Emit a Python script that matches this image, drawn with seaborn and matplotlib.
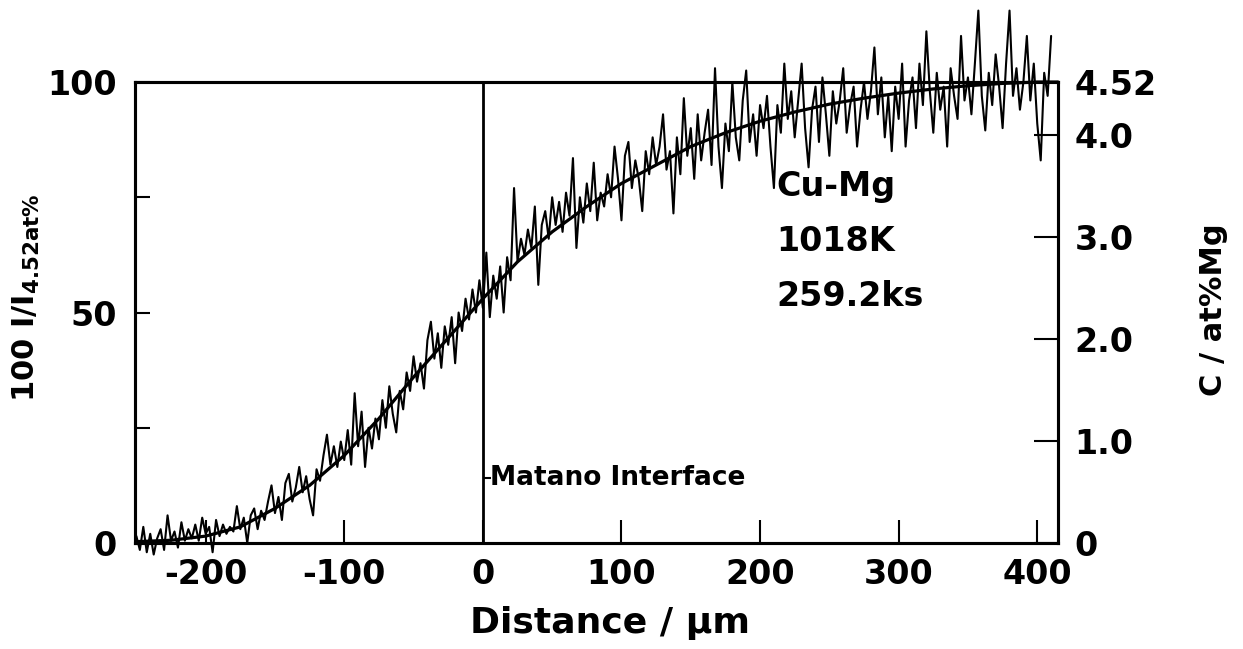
import numpy as np
import matplotlib
matplotlib.use("Agg")
import matplotlib.pyplot as plt
import seaborn as sns

# ---------------- data ----------------
# measured intensity trace, 100 I / I(4.52 at%), sampled every 2.5 um from -250 um
trace_start_um = -250.0
trace_step_um = 2.5
trace_values = [
    1.5, -1.5, 3.5, -2.0, 2.0, -2.5, 1.0, 3.0, -1.5, 6.0,
    0.5, 2.5, -1.0, 4.5, 0.5, 3.0, 1.0, 4.0, 0.5, 5.5,
    2.0, 3.5, -2.0, 5.0, 1.5, 4.0, 2.0, 3.5, 2.5, 8.0,
    3.0, 5.5, 0.0, 6.0, 7.5, 3.0, 7.0, 5.0, 9.0, 12.5,
    6.5,
    10.0, 5.0, 13.0, 15.0, 9.0, 12.0, 16.5, 11.0, 14.5, 9.5,
    6.0, 16.0, 13.5, 19.0, 23.5, 17.0, 21.0, 16.5, 22.0, 18.0,
    24.5, 17.0, 32.5, 21.0, 28.5, 16.5, 25.0, 20.5, 27.0, 22.5,
    31.0, 25.0, 34.0, 28.0, 24.0, 33.0, 29.0, 37.0, 33.0, 40.5,
    35.0, 39.0, 33.5, 44.0, 48.0, 40.0, 45.5, 38.0, 47.0, 43.0,
    49.0, 39.0, 50.0, 46.0, 53.0, 48.5, 55.0, 50.0, 57.0, 51.0,
    63.0, 49.0, 58.0, 53.0, 60.0, 50.0, 62.0, 57.0, 77.0, 61.0,
    66.0, 62.5, 68.0, 64.0, 73.0, 56.0, 69.0, 72.0, 66.0, 75.0,
    69.0, 74.0, 67.5, 76.0, 71.0, 83.5, 64.0, 75.0, 69.5, 78.0,
    72.0, 82.5, 70.0, 76.0, 73.0, 80.0, 75.0, 86.0, 79.0, 70.0,
    84.0, 87.0, 77.0, 83.0, 79.0, 72.0, 85.0, 80.0, 88.0, 82.0,
    86.0, 93.0, 81.0, 85.0, 71.5, 88.0, 80.0, 96.5, 84.0, 90.0,
    79.0, 93.0, 83.0, 89.0, 94.0, 82.0, 103.0, 86.0, 77.0, 91.0,
    85.0, 100.0, 88.0, 83.0, 96.0, 102.5, 87.0, 93.0, 84.0, 95.0,
    90.0, 97.0, 86.0, 77.0, 95.0, 89.0, 104.0, 92.0, 98.0, 88.0,
    96.0, 104.0, 90.0, 81.5, 94.0, 99.0, 87.0, 101.0, 93.0, 84.0,
    98.0, 91.0, 96.0, 103.0, 89.0, 95.0, 99.0, 86.0, 94.0, 100.0,
    92.0, 98.0, 107.5, 93.0, 101.0, 88.0, 97.0, 85.0, 99.0, 92.0,
    104.0, 86.0, 96.0, 101.0, 90.0, 104.0, 95.0, 111.0, 98.0, 89.0,
    102.0, 94.0, 99.0, 86.0, 103.0, 97.0, 92.0, 110.0, 96.0, 101.0,
    93.0, 104.0, 115.5, 97.0, 89.5, 102.0, 95.0, 106.0, 99.0, 90.0,
    104.0, 115.5, 97.0, 103.0, 94.0, 100.0, 110.0, 96.0, 104.0, 91.0,
    83.0, 102.0, 97.0, 110.0,
]

# smooth fitted profile
fit_distance = [-250, -225, -200, -175, -150, -125, -100, -75, -50, -25,
                0, 25, 50, 75, 100, 125, 150, 175, 200, 225,
                250, 275, 300, 325, 350, 375, 400, 415]
fit_values = [0.3, 0.6, 1.5, 3.5, 7.5, 12.5, 19.0, 27.0, 36.0, 44.5,
              53.0, 61.0, 67.5, 73.0, 78.0, 82.0, 86.0, 89.0, 91.5, 93.5,
              95.2, 96.5, 97.6, 98.5, 99.2, 99.7, 100.0, 100.0]

x_ticks = [-200, -100, 0, 100, 200, 300, 400]
x_tick_labels = ["-200", "-100", "0", "100", "200", "300", "400"]
left_ticks = [0, 25, 50, 75, 100]
left_tick_labels = ["0", "", "50", "", "100"]
right_ticks = [0, 1.0, 2.0, 3.0, 4.0, 4.52]
right_tick_labels = ["0", "1.0", "2.0", "3.0", "4.0", "4.52"]
sample_lines = ["Cu-Mg", "1018K", "259.2ks"]
matano_position = 0

trace_distance = trace_start_um + trace_step_um * np.arange(len(trace_values))

# ---------------- style ----------------
sns.set_style("white")
plt.rcParams["font.family"] = ["DejaVu Sans"]
plt.rcParams["font.weight"] = "bold"
plt.rcParams["mathtext.default"] = "bf"
plt.rcParams["axes.edgecolor"] = "black"
plt.rcParams["text.color"] = "black"
plt.rcParams["xtick.color"] = "black"
plt.rcParams["ytick.color"] = "black"

fig = plt.figure(figsize=(12.43, 6.49), dpi=100)
ax = fig.add_axes([0.1086, 0.1633, 0.7426, 0.7103])

sns.lineplot(x=trace_distance, y=trace_values, ax=ax, color="black",
             lw=1.5, estimator=None, sort=False)
sns.lineplot(x=fit_distance, y=fit_values, ax=ax, color="black",
             lw=2.3, estimator=None, sort=False)
for ln in ax.lines:
    ln.set_clip_on(False)

ax.axvline(matano_position, color="black", lw=2.0)

ax.set_xlim(-251, 415)
ax.set_ylim(0, 100)

ax.set_xticks(x_ticks)
ax.set_xticklabels(x_tick_labels)
ax.set_yticks(left_ticks)
ax.set_yticklabels(left_tick_labels)
ax.tick_params(axis="x", bottom=True, direction="in", length=16.5, width=1.5,
               labelsize=24, pad=11)
ax.tick_params(axis="y", left=True, direction="in", length=11, width=1.5,
               labelsize=24, pad=13)
ax.set_xlabel("")
ax.set_ylabel("")

ax2 = ax.twinx()
ax2.set_ylim(0, 4.52)
ax2.set_yticks(right_ticks)
ax2.set_yticklabels(right_tick_labels)
ax2.tick_params(axis="y", right=True, direction="in", length=17, width=1.5,
                labelsize=24, pad=12)
ax2.grid(False)
ax.grid(False)

for a in (ax, ax2):
    for s in a.spines.values():
        s.set_linewidth(2.2)
        s.set_color("black")
        s.set_visible(True)

# annotations
for txt, yv in zip(sample_lines, [77.4, 65.5, 53.4]):
    ax.text(211.5, yv, txt, fontsize=24, ha="left", va="center")

ax.plot([matano_position], [14.1], marker=1, ms=6, mew=1.5, color="black")
ax.text(5, 14.1, "Matano Interface", fontsize=19, ha="left", va="center")

# axis labels
fig.text(26 / 1243, 1 - 298 / 649, r"100 I/I$_{4.52at\%}$", rotation=90,
         ha="center", va="center", fontsize=22)
fig.text(1213 / 1243, 1 - 310 / 649, "C / at%Mg", rotation=90,
         ha="center", va="center", fontsize=22)
fig.text(610 / 1243, 1 - 633 / 649, "Distance / \u00b5m", ha="center",
         va="baseline", fontsize=26)

fig.savefig("out.png", dpi=100, facecolor="white")
